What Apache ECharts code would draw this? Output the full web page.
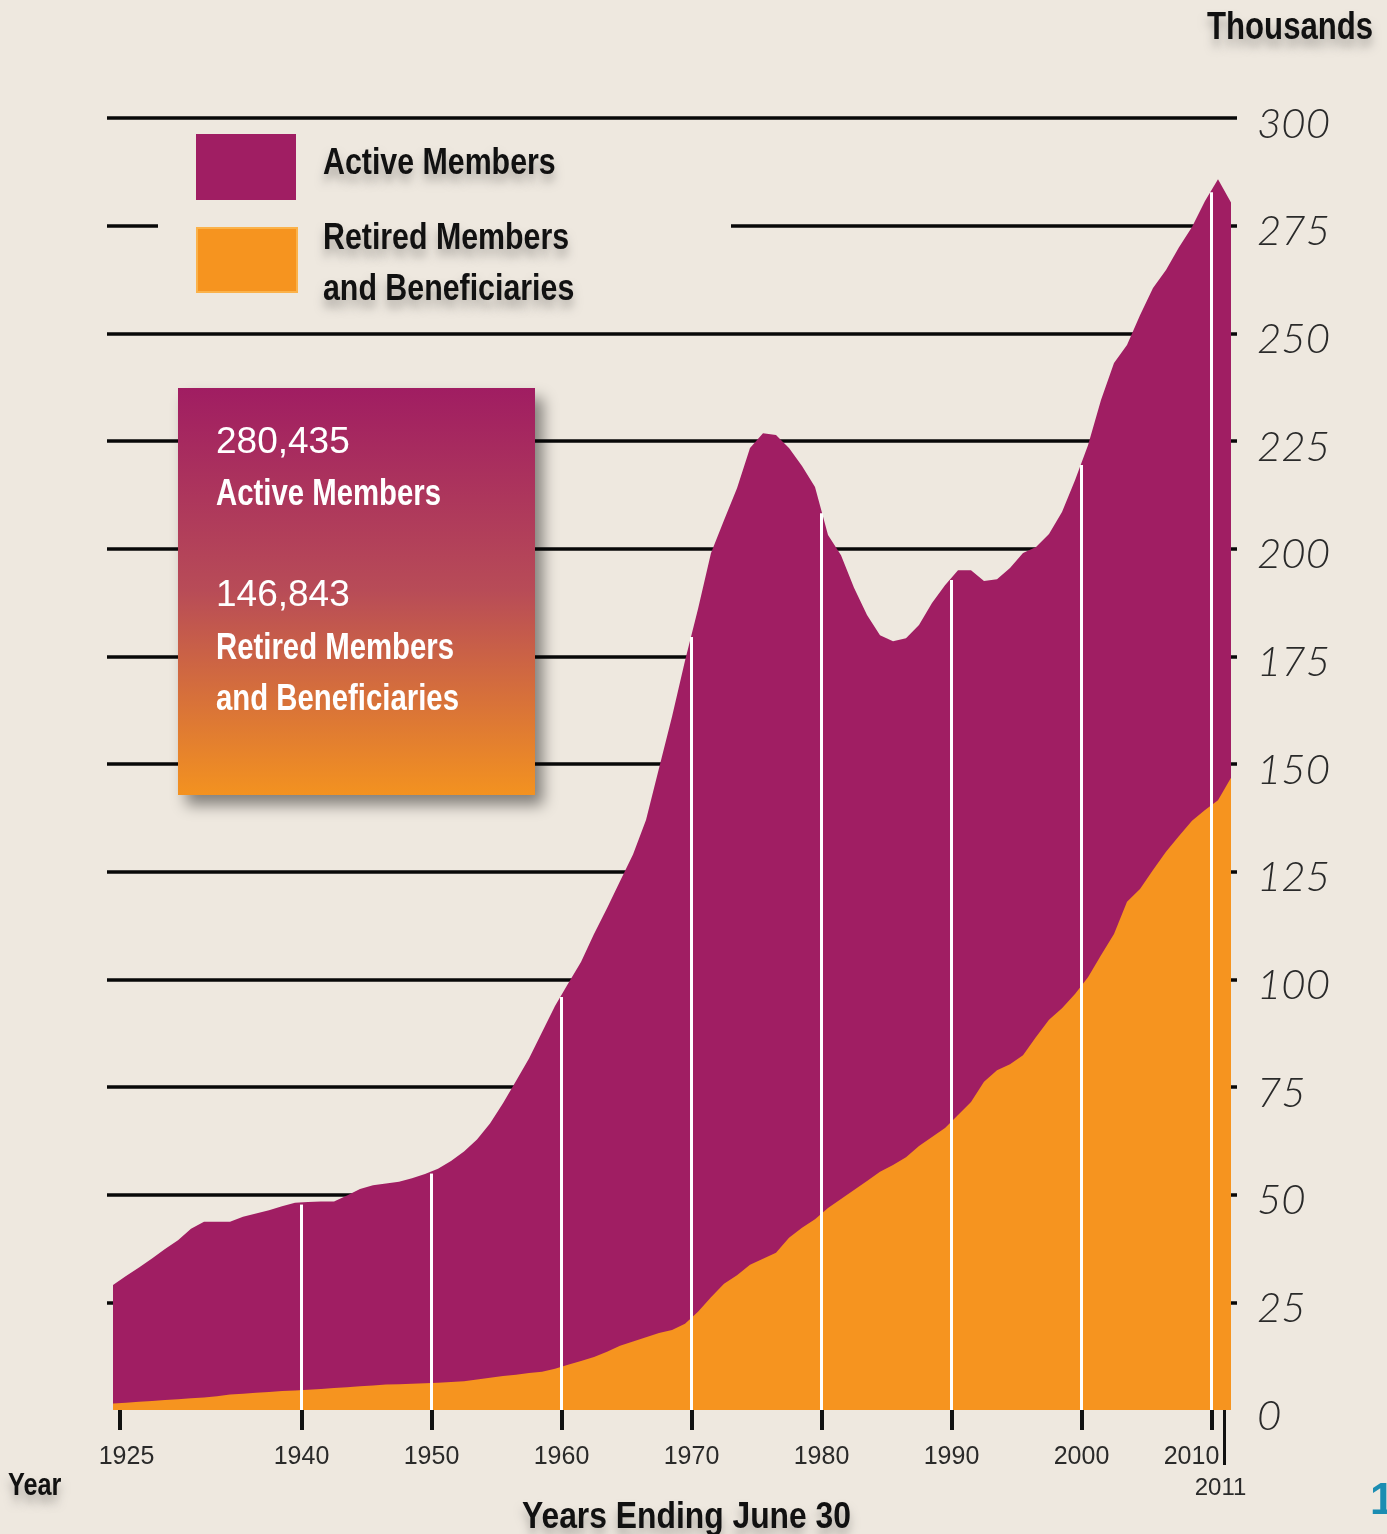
<!DOCTYPE html>
<html lang="en">
<head>
<meta charset="UTF-8">
<title>Active and Retired Members</title>
<script src="https://cdn.jsdelivr.net/npm/echarts@6/dist/echarts.min.js"></script>
<style>
  body{margin:0;background:#eee8df}
  #chart{width:1387px;height:1534px}
</style>
</head>
<body>
<div id="chart"></div>
<script>
// thousands of members, fiscal years ending June 30, 1925..2011
var firstYear = 1925;
var active = [
  29.0, 31.1, 33.1, 35.2, 37.4, 39.4, 42.1, 43.7, 43.7, 43.7,
  44.9, 45.6, 46.4, 47.3, 48.1, 48.3, 48.4, 48.4, 49.8, 51.3,
  52.2, 52.6, 53.0, 53.8, 54.8, 56.0, 57.8, 60.0, 62.8, 66.5,
  71.2, 76.4, 81.6, 87.7, 93.8, 99.0, 104.0, 110.5, 116.5, 122.8,
  129.0, 137.0, 149.0, 161.0, 174.0, 186.0, 199.0, 206.6, 214.0, 223.4,
  226.8, 226.4, 223.4, 219.2, 214.3, 203.2, 198.5, 190.9, 184.6, 179.9,
  178.5, 179.2, 182.3, 187.4, 191.5, 195.0, 195.0, 192.5, 192.9, 195.5,
  199.0, 200.4, 203.4, 208.5, 215.9, 224.0, 234.5, 243.1, 247.3, 254.2,
  260.5, 264.7, 270.0, 274.7, 280.7, 285.8, 280.4
];
var retired = [
  1.5, 1.7, 1.9, 2.1, 2.3, 2.5, 2.7, 2.9, 3.2, 3.6,
  3.8, 4.0, 4.2, 4.4, 4.5, 4.7, 4.9, 5.1, 5.3, 5.5,
  5.7, 5.9, 6.0, 6.1, 6.2, 6.3, 6.5, 6.7, 7.1, 7.5,
  7.9, 8.2, 8.6, 8.9, 9.6, 10.5, 11.4, 12.3, 13.5, 14.9,
  15.9, 16.9, 17.9, 18.6, 20.0, 22.8, 26.2, 29.3, 31.3, 33.7,
  35.1, 36.5, 40.0, 42.3, 44.3, 46.9, 49.0, 51.1, 53.2, 55.3,
  56.9, 58.7, 61.3, 63.4, 65.5, 68.5, 71.5, 76.2, 78.9, 80.3,
  82.4, 86.6, 90.6, 93.3, 96.6, 100.5, 105.6, 110.5, 118.0, 121.0,
  125.4, 129.6, 133.3, 136.8, 139.3, 141.6, 146.8
];
var tickYears = [1925, 1940, 1950, 1960, 1970, 1980, 1990, 2000, 2010];
var whiteLineYears = [1940, 1950, 1960, 1970, 1980, 1990, 2000, 2010];
var lastYear = 2011;
var activeTotal = '280,435';
var retiredTotal = '146,843';
var seriesNames = ['Active Members', 'Retired Members\nand Beneficiaries'];

var PURPLE = '#a01e63';
var ORANGE = '#f6941f';
var BG = '#eee8df';
var SANS = '"Liberation Sans", Arial, sans-serif';
var SHADOW = { textShadowColor: 'rgba(0,0,0,0.28)', textShadowBlur: 10, textShadowOffsetY: 8 };

var years = active.map(function (v, i) { return firstYear + i; });
// each value is plotted at June 30 of its year
var activeData = active.map(function (v, i) { return [years[i] + 0.5, v]; });
var retiredData = retired.map(function (v, i) { return [years[i] + 0.5, v]; });

// the first tick sits just inside the left edge of the area
var tickPos = tickYears.map(function (y) { return y === firstYear ? firstYear + 1 : y; });

// white year lines run from the base up to the active curve
var whiteLines = whiteLineYears.map(function (t) {
  var i = t - firstYear;
  var top = (active[i - 1] + active[i]) / 2;
  return [{ coord: [t, 0] }, { coord: [t, top - 0.5] }];
});

// narrow hand-lettered look: bold sans squeezed horizontally
function label(text, x, y, size, opts) {
  opts = opts || {};
  var style = {
    text: text, fill: opts.fill || '#111', align: 'left', verticalAlign: 'middle',
    font: (opts.weight || 'bold') + ' ' + size + 'px ' + SANS
  };
  if (opts.shadow) Object.assign(style, SHADOW);
  return { type: 'text', z: opts.z || 7, x: x, y: y, scaleX: opts.sx || 0.82, style: style };
}

var chart = echarts.init(document.getElementById('chart'));
var option = {
  backgroundColor: BG,
  animation: false,
  grid: [
    { left: 107, right: 150, top: 118, bottom: 124 },
    { left: 113, right: 156, top: 118, bottom: 124 }
  ],
  xAxis: [
    {
      type: 'value', gridIndex: 1, position: 'bottom', min: firstYear + 0.5, max: lastYear + 0.5,
      axisLine: { show: false },
      splitLine: { show: false },
      axisTick: { show: true, customValues: tickPos, length: 20, lineStyle: { color: '#111', width: 4 } },
      axisLabel: {
        customValues: tickPos, margin: 35, fontFamily: SANS, fontSize: 25, color: '#2a2a2a',
        formatter: function (v) {
          if (v < 1930) return '{r|1925}';
          if (v === 2010) return '{l|2010}';
          return String(v);
        },
        rich: {
          r: { fontFamily: SANS, fontSize: 25, color: '#2a2a2a', padding: [0, 0, 0, 14] },
          l: { fontFamily: SANS, fontSize: 25, color: '#2a2a2a', padding: [0, 40, 0, 0] }
        }
      }
    },
    {
      type: 'value', gridIndex: 1, position: 'bottom', min: firstYear + 0.5, max: lastYear + 0.5,
      axisLine: { show: false },
      splitLine: { show: false },
      axisTick: { show: true, customValues: [lastYear], length: 55, lineStyle: { color: '#111', width: 3 } },
      axisLabel: {
        customValues: [lastYear], margin: 66, fontFamily: SANS, fontSize: 24, color: '#2a2a2a',
        padding: [0, 8, 0, 0],
        formatter: function (v) { return String(v); }
      }
    },
    { type: 'value', gridIndex: 0, min: 0, max: 1, show: false }
  ],
  yAxis: [
    {
      type: 'value', gridIndex: 0, position: 'right', min: 0, max: 300, interval: 25,
      axisLine: { show: false },
      axisTick: { show: false },
      splitLine: { show: true, showMinLine: false, lineStyle: { color: '#080808', width: 3.5 } },
      axisLabel: {
        margin: 20, fontFamily: 'Lato, sans-serif', fontWeight: 300, fontStyle: 'italic',
        fontSize: 42, color: '#2a2a2a', verticalAlign: 'top', lineHeight: 12
      }
    },
    { type: 'value', gridIndex: 1, min: 0, max: 300, show: false }
  ],
  graphic: [
    // paper behind the legend hides the 275 line there
    { type: 'rect', z: 1, shape: { x: 158, y: 128, width: 573, height: 190 }, style: { fill: BG } },
    { type: 'rect', z: 6, shape: { x: 196, y: 134, width: 100, height: 66 }, style: { fill: PURPLE } },
    { type: 'rect', z: 6, shape: { x: 197, y: 228, width: 100, height: 64 }, style: { fill: ORANGE, stroke: '#fbb24a', lineWidth: 2 } },
    label(seriesNames[0], 323, 164, 37, { shadow: true }),
    label('Retired Members', 323, 239, 37, { shadow: true }),
    label('and Beneficiaries', 323, 290, 37, { shadow: true }),
    {
      type: 'rect', z: 6, shape: { x: 178, y: 388, width: 357, height: 407 },
      style: {
        fill: new echarts.graphic.LinearGradient(0, 0, 0, 1, [
          { offset: 0, color: '#a01d62' },
          { offset: 0.5, color: '#b84c57' },
          { offset: 1, color: '#f39220' }
        ]),
        shadowBlur: 14, shadowOffsetX: 8, shadowOffsetY: 10, shadowColor: 'rgba(0,0,0,0.45)'
      }
    },
    label(activeTotal, 216, 443, 37, { fill: '#fff', weight: 'normal', sx: 1 }),
    label('Active Members', 216, 495, 36, { fill: '#fff', sx: 0.815 }),
    label(retiredTotal, 216, 596, 37, { fill: '#fff', weight: 'normal', sx: 1 }),
    label('Retired Members', 216, 649, 36, { fill: '#fff', sx: 0.815 }),
    label('and Beneficiaries', 216, 700, 36, { fill: '#fff', sx: 0.815 }),
    label('Thousands', 1207, 29, 38, { shadow: true }),
    label('Year', 8, 1486, 32, { shadow: true, sx: 0.79 }),
    label('Years Ending June 30', 522, 1518, 37, { shadow: true, sx: 0.86 }),
    label('1', 1370, 1502, 44, { fill: '#1b8db2', sx: 1 })
  ],
  series: [
    {
      name: seriesNames[0], type: 'line', xAxisIndex: 0, yAxisIndex: 1,
      data: activeData, showSymbol: false, symbol: 'none', z: 2,
      itemStyle: { color: PURPLE }, lineStyle: { width: 0, color: PURPLE },
      areaStyle: { color: PURPLE, opacity: 1 }
    },
    {
      name: seriesNames[1], type: 'line', xAxisIndex: 0, yAxisIndex: 1,
      data: retiredData, showSymbol: false, symbol: 'none', z: 3,
      itemStyle: { color: ORANGE }, lineStyle: { width: 0, color: ORANGE },
      areaStyle: { color: ORANGE, opacity: 1 },
      markLine: {
        silent: true, symbol: ['none', 'none'], label: { show: false },
        lineStyle: { color: '#ffffff', width: 3, type: 'solid' },
        data: whiteLines
      }
    }
  ]
};
chart.setOption(option);
</script>
</body>
</html>
